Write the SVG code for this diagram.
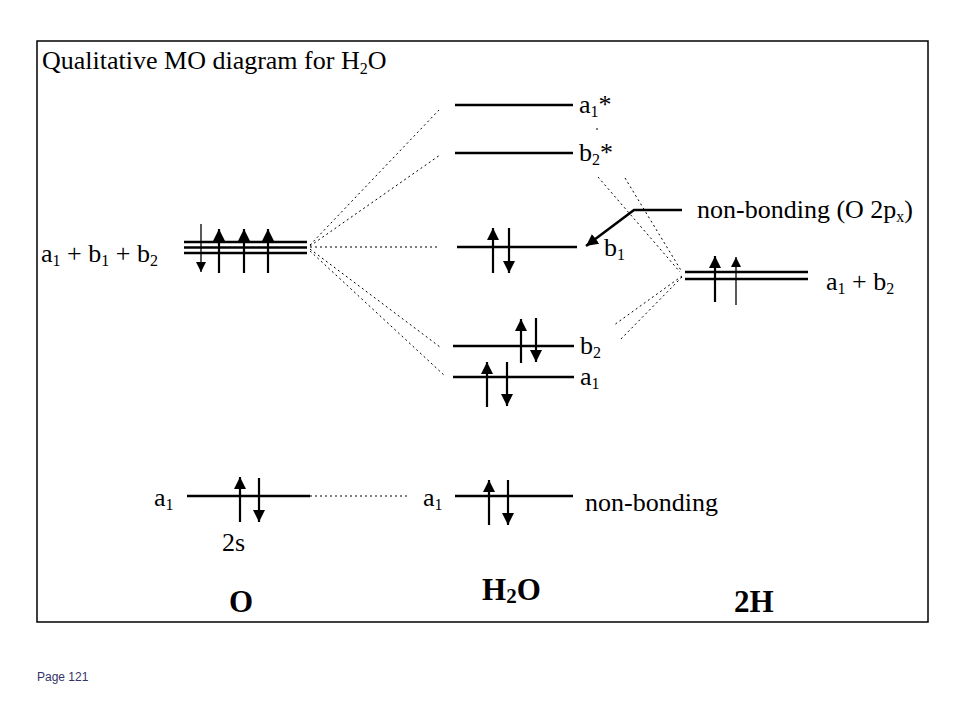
<svg xmlns="http://www.w3.org/2000/svg" width="960" height="720" viewBox="0 0 960 720">
<defs>
<style>
.lvl{stroke:#000;stroke-width:2.5;fill:none}
.e{stroke:#000;stroke-width:2.2;fill:none;marker-end:url(#ah)}
.et{stroke:#000;stroke-width:1.3;fill:none;marker-end:url(#ahs)}
.dot{stroke:#000;stroke-width:1;stroke-dasharray:2,3;fill:none}
.t{font-family:"Liberation Serif","Times New Roman",serif;font-size:26px;fill:#000}
.b{font-family:"Liberation Serif","Times New Roman",serif;font-size:31px;font-weight:bold;fill:#000}
.s{font-size:16px}
</style>
<marker id="ah" markerUnits="userSpaceOnUse" markerWidth="12" markerHeight="12" refX="10" refY="5" orient="auto" viewBox="0 0 10 10"><path d="M0,0 L10,5 L0,10 z" fill="#000"/></marker>
<marker id="ahs" markerUnits="userSpaceOnUse" markerWidth="10" markerHeight="10" refX="10" refY="5" orient="auto" viewBox="0 0 10 10"><path d="M0,0 L10,5 L0,10 z" fill="#000"/></marker>
</defs>
<rect x="0" y="0" width="960" height="720" fill="#fff"/>
<rect x="37" y="41" width="891" height="581" fill="none" stroke="#000" stroke-width="1.5"/>
<text class="t" x="42" y="69">Qualitative MO diagram for H<tspan class="s" dy="5">2</tspan><tspan dy="-5">O</tspan></text>

<g id="connectors">
<line class="dot" x1="310" y1="245" x2="439" y2="110"/>
<line class="dot" x1="310" y1="246" x2="440" y2="155"/>
<line class="dot" x1="310" y1="247" x2="440" y2="247"/>
<line class="dot" x1="310" y1="249" x2="440" y2="347"/>
<line class="dot" x1="310" y1="251" x2="445" y2="376"/>
<line class="dot" x1="598" y1="177" x2="680" y2="272"/>
<line class="dot" x1="625" y1="178" x2="682" y2="272"/>
<line class="dot" x1="682" y1="276" x2="614" y2="325"/>
<line class="dot" x1="682" y1="277" x2="619" y2="341"/>
<line class="dot" x1="310" y1="496" x2="410" y2="496"/>
<line class="dot" x1="597" y1="128" x2="597" y2="130"/>
<polyline points="682,210 634,210 586,246" fill="none" stroke="#000" stroke-width="2.5" marker-end="url(#ah)"/>
</g>

<g id="O2p">
<line class="lvl" x1="184" y1="242" x2="307" y2="242"/>
<line class="lvl" x1="184" y1="247.5" x2="307" y2="247.5"/>
<line class="lvl" x1="184" y1="253" x2="307" y2="253"/>
<line class="et" x1="201" y1="224" x2="201" y2="272"/>
<line class="e" x1="219" y1="273" x2="219" y2="229"/>
<line class="e" x1="244" y1="273" x2="244" y2="229"/>
<line class="e" x1="268" y1="273" x2="268" y2="229"/>
<text class="t" x="41" y="262">a<tspan class="s" dy="4">1</tspan><tspan dy="-4"> + b</tspan><tspan class="s" dy="4">1</tspan><tspan dy="-4"> + b</tspan><tspan class="s" dy="4">2</tspan></text>
</g>

<g id="O2s">
<line class="lvl" x1="187" y1="496" x2="310" y2="496"/>
<line class="e" x1="240" y1="522" x2="240" y2="477"/>
<line class="e" x1="259" y1="478" x2="259" y2="522"/>
<text class="t" x="154" y="506">a<tspan class="s" dy="4">1</tspan></text>
<text class="t" x="222" y="551">2s</text>
</g>

<g id="a1star">
<line class="lvl" x1="455" y1="105" x2="573" y2="105"/>
<text class="t" x="579" y="113">a<tspan class="s" dy="4">1</tspan><tspan dy="-4">*</tspan></text>
</g>
<g id="b2star">
<line class="lvl" x1="455" y1="153" x2="573" y2="153"/>
<text class="t" x="579" y="161">b<tspan class="s" dy="4">2</tspan><tspan dy="-4">*</tspan></text>
</g>
<g id="b1">
<line class="lvl" x1="457" y1="247" x2="577" y2="247"/>
<line class="e" x1="493" y1="273" x2="493" y2="228"/>
<line class="e" x1="509" y1="228" x2="509" y2="273"/>
<text class="t" x="604" y="256">b<tspan class="s" dy="4">1</tspan></text>
</g>
<g id="b2">
<line class="lvl" x1="453" y1="346" x2="574" y2="346"/>
<line class="e" x1="521" y1="363" x2="521" y2="319"/>
<line class="e" x1="536" y1="318" x2="536" y2="362"/>
<text class="t" x="580" y="354">b<tspan class="s" dy="4">2</tspan></text>
</g>
<g id="a1">
<line class="lvl" x1="453" y1="377" x2="574" y2="377"/>
<line class="e" x1="487" y1="407" x2="487" y2="362"/>
<line class="e" x1="507" y1="362" x2="507" y2="406"/>
<text class="t" x="580" y="385">a<tspan class="s" dy="4">1</tspan></text>
</g>
<g id="a1nb">
<line class="lvl" x1="455" y1="496" x2="573" y2="496"/>
<line class="e" x1="489" y1="525" x2="489" y2="480"/>
<line class="e" x1="508" y1="480" x2="508" y2="525"/>
<text class="t" x="423" y="506">a<tspan class="s" dy="4">1</tspan></text>
<text class="t" x="585" y="511">non-bonding</text>
</g>
<g id="nb2px">
<text class="t" x="697" y="218">non-bonding (O 2p<tspan class="s" dy="4">x</tspan><tspan dy="-4">)</tspan></text>
</g>
<g id="H">
<line class="lvl" x1="685" y1="272" x2="808" y2="272"/>
<line class="lvl" x1="685" y1="279" x2="808" y2="279"/>
<line class="e" x1="715" y1="302" x2="715" y2="256"/>
<line class="et" x1="736" y1="305" x2="736" y2="257"/>
<text class="t" x="826" y="290">a<tspan class="s" dy="4">1</tspan><tspan dy="-4"> + b</tspan><tspan class="s" dy="4">2</tspan></text>
</g>

<text class="b" x="229" y="612">O</text>
<text class="b" x="482" y="600">H<tspan dy="3" style="font-size:21px">2</tspan><tspan dy="-3">O</tspan></text>
<text class="b" x="734" y="612">2H</text>
<text x="37" y="681" style="font-family:'Liberation Sans',Arial,sans-serif;font-size:12px;fill:#333366">Page 121</text>
</svg>
